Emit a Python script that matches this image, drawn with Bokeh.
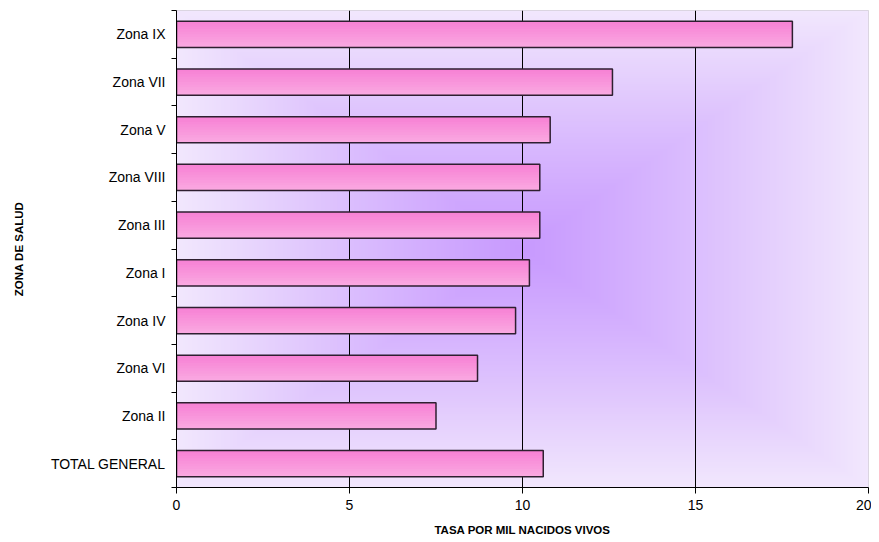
import numpy as np
from bokeh.plotting import figure
from bokeh.models import FixedTicker, Range1d, ColumnDataSource
from bokeh.embed import file_html
from bokeh.resources import INLINE

# categories from bottom to top
categories = ["TOTAL GENERAL", "Zona II", "Zona VI", "Zona IV", "Zona I",
              "Zona III", "Zona VIII", "Zona V", "Zona VII", "Zona IX"]
values = [10.6, 7.5, 8.7, 9.8, 10.2, 10.5, 10.5, 10.8, 12.6, 17.8]
x_ticks = [0, 5, 10, 15, 20]

x_title = "TASA POR MIL NACIDOS VIVOS"
y_title = "ZONA DE SALUD"

FONT = "Liberation Sans"

W, H = 871, 540
p = figure(width=W, height=H, output_backend="svg", toolbar_location=None,
           x_range=Range1d(0, 20), y_range=Range1d(0, len(categories)),
           min_border_left=176, min_border_right=3, min_border_top=10,
           min_border_bottom=53)
p.background_fill_color = "white"
p.border_fill_color = "white"
p.outline_line_color = "#d4d0d8"
p.outline_line_width = 1

# background "from center" gradient
ny, nx = 240, 400
yy, xx = np.mgrid[0:ny, 0:nx]
dx = np.abs((xx + 0.5) / nx * 2 - 1)
dy = np.abs((yy + 0.5) / ny * 2 - 1)
t = np.clip(np.maximum(dx, dy), 0, 1) ** 1.1
c0 = np.array([200, 154, 255])
c1 = np.array([242, 232, 253])
img = np.empty((ny, nx), dtype=np.uint32)
view = img.view(dtype=np.uint8).reshape((ny, nx, 4))
for k in range(3):
    view[:, :, k] = (c0[k] + (c1[k] - c0[k]) * t).astype(np.uint8)
view[:, :, 3] = 255
p.image_rgba(image=[img], x=0, y=0, dw=20, dh=len(categories), level="image")

# vertical gridlines
p.xgrid.grid_line_color = "black"
p.xgrid.grid_line_width = 1
p.ygrid.grid_line_color = None
p.xgrid.level = "underlay"

ypos = [i + 0.5 for i in range(len(categories))]
bh = 0.55
zeros = [0] * len(values)

# bars with a vertical pink gradient (darker top, lighter bottom)
top_c = np.array([247, 128, 212])
bot_c = np.array([250, 170, 226])
nb = 10
step = bh / nb
for k in range(nb):
    f = (k + 0.5) / nb  # 0 = top, 1 = bottom
    c = top_c + (bot_c - top_c) * f
    col = "#%02x%02x%02x" % tuple(int(round(v)) for v in c)
    hk = step * (1.6 if k < nb - 1 else 1.0)
    yc = [y + bh / 2 - k * step - hk / 2 for y in ypos]
    p.hbar(y=yc, left=zeros, right=values, height=hk,
           fill_color=col, line_color=None)
src = ColumnDataSource(dict(y=ypos, v=values, z=zeros))
p.hbar(y="y", left="z", right="v", height=bh, source=src,
       fill_color=None, line_color="#2e1f30", line_width=1.5)

# x axis
p.xaxis.ticker = FixedTicker(ticks=x_ticks)
p.xaxis.axis_line_color = "black"
p.xaxis.major_tick_line_color = "black"
p.xaxis.major_tick_out = 6
p.xaxis.major_tick_in = 0
p.xaxis.minor_tick_line_color = None
p.xaxis.major_label_text_font = FONT
p.xaxis.major_label_text_font_size = "14px"
p.xaxis.major_label_text_color = "black"
p.xaxis.major_label_standoff = 6
p.xaxis.axis_label = x_title
p.xaxis.axis_label_text_font = FONT
p.xaxis.axis_label_text_font_size = "11.5px"
p.xaxis.axis_label_text_font_style = "bold"
p.xaxis.axis_label_text_color = "black"
p.xaxis.axis_label_standoff = 11

# y axis: labels at category centers, tick marks at boundaries
p.yaxis.ticker = FixedTicker(ticks=ypos, minor_ticks=list(range(len(categories) + 1)))
p.yaxis.major_label_overrides = {y: c for y, c in zip(ypos, categories)}
p.yaxis.axis_line_color = "black"
p.yaxis.major_tick_line_color = None
p.yaxis.major_tick_out = 0
p.yaxis.major_tick_in = 0
p.yaxis.minor_tick_line_color = "black"
p.yaxis.minor_tick_out = 5
p.yaxis.minor_tick_in = 0
p.yaxis.major_label_text_font = FONT
p.yaxis.major_label_text_font_size = "14px"
p.yaxis.major_label_text_color = "black"
p.yaxis.major_label_standoff = 6
p.yaxis.axis_label = y_title
p.yaxis.axis_label_text_font = FONT
p.yaxis.axis_label_text_font_size = "11.5px"
p.yaxis.axis_label_text_font_style = "bold"
p.yaxis.axis_label_text_color = "black"
p.yaxis.axis_label_standoff = 23

open("out.html", "w").write(file_html(p, INLINE))
